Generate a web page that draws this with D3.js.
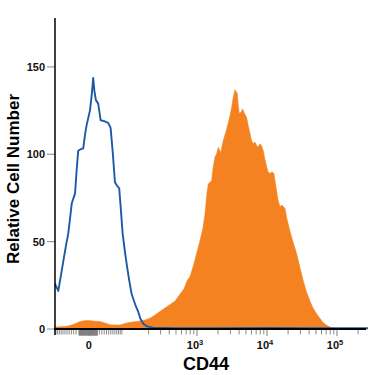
<!DOCTYPE html>
<html><head><meta charset="utf-8">
<script src="https://cdn.jsdelivr.net/npm/d3@7"></script>
<style>body{margin:0;background:#fff}svg{display:block}text{font-family:"Liberation Sans",Arial,sans-serif}</style>
</head><body><svg id="c" width="375" height="375"></svg>
<script>
// Isotype control (blue outline): fluorescence value and cell count
const isoX = [-78,-75,-68,-61,-54,-48,-42,-38,-34,-27,-24,-20.6,-15,-10.8,-7,-4.3,1.9,5,8.1,10.5,13.3,17.8,22.6,30,38.9,44.5,50,55.2,61,67,72,77.4,85,92.9,100,109.7,125,139,150,166,190,234,500,2000,10000,50000,277000];
const isoY = [26,24.7,21.8,30,39,47,54.6,63,72,77.6,90,102,103,103.4,112,116.7,125,133,143.7,136,131,129,119.5,119,118,115,100,84,82,80.5,68,54.6,44,35,28,20,14,10,6,3,1.5,0.7,0.5,0.5,0.6,0.5,0.5];
// CD44 stained (orange filled)
const cd44X = [-78,-75,-50,-38,-27,-17,-7.6,1.9,11.4,21,31.6,42.8,55,69.1,84.9,102.9,123.8,148,176,209,248,293,347,412,485,572,652,720,794,885,1000,1104,1218,1301,1389,1450,1622,1693,1807,1899,2015,2181,2375,2596,2800,2961,3131,3268,3491,3607,3764,3890,4021,4252,4497,4693,5129,5354,5717,6005,6374,6741,7128,7438,7943,8345,8855,9363,9902,10330,11040,11790,12590,13010,13760,14360,15340,16380,18070,19310,21310,23520,26570,29610,33010,36070,41150,45410,51290,57180,63740,71970,84030,96760,110400,277000];
const cd44Y = [1.2,1.2,1.5,2,3,4.3,4.8,4.8,4.5,4.3,3.5,2.5,2.3,2.3,3.2,3.8,4.2,4.6,5.2,6.2,8,10,12,14,16,20,23,27.6,30,36,44,50.6,58,66,78,83,85,92,98.5,100,104,101,108,113,118,122,127,132,137,136,135,128,123.5,124,126,124,121,117,112,108,106,107,105,104,106,105,102,97,93,90,89,90,89,85,79,74,70,71,69,63,56,50,43,35,27.6,22,16,12,8.6,6,3.6,2,0.7,0.2,0,0];

const yTicks = [0,50,100,150];
const xMajorTicks = [0,1e3,1e4,1e5];
const xMajorLabels = [["0",""],["10","3"],["10","4"],["10","5"]];
const xMinorTicks = [-75,-70,-65,-60,-55,-50,-45,-40,-35,-30,-25,20,25,30,35,40,45,50,55,60,65,70,75,
  200,300,400,500,600,700,800,900,2000,3000,4000,5000,6000,7000,8000,9000,
  20000,30000,40000,50000,60000,70000,80000,90000,200000];
const xClusterTicks = [-19,-18,-17,-16,-15,-14,-13,-12,-11,-10,-9,-8,-7,-6,-5,-4,-3,-2,-1,1,2,3,4,5,6,7,8,9,10,11,12,13,14,15,16];

const svg = d3.select("#c");
const T = v => Math.asinh(v / 57.3);
const xs = d3.scaleLinear().domain([T(-78), T(277000)]).range([55, 368]);
const x = v => xs(T(v));
const y = d3.scaleLinear().domain([0, 178]).range([329, 18]);

// orange area
const area = d3.area().x((d,i)=>x(cd44X[i])).y0(y(0)).y1(d=>y(d));
svg.append("path").datum(cd44Y).attr("d", area).attr("fill", "#f58220").attr("stroke","#f58220").attr("stroke-width",0.5);

// blue line
const line = d3.line().x((d,i)=>x(isoX[i])).y(d=>y(d));
svg.append("path").datum(isoY).attr("d", line).attr("fill","none").attr("stroke","#1d5aa6").attr("stroke-width",1.9).attr("stroke-linejoin","round");

// x ticks
const gx = svg.append("g");
gx.selectAll("line.mn").data(xMinorTicks).join("line").attr("class","mn")
  .attr("x1",d=>x(d)).attr("x2",d=>x(d)).attr("y1",329).attr("y2",334.5)
  .attr("stroke","#8a8a8a").attr("stroke-width",1);
gx.selectAll("line.cl").data(xClusterTicks).join("line").attr("class","cl")
  .attr("x1",d=>x(d)).attr("x2",d=>x(d)).attr("y1",329).attr("y2",335.5)
  .attr("stroke","#7d7d7d").attr("stroke-width",1);
gx.selectAll("line.mj").data(xMajorTicks).join("line").attr("class","mj")
  .attr("x1",d=>x(d)).attr("x2",d=>x(d)).attr("y1",329).attr("y2",336)
  .attr("stroke","#7d7d7d").attr("stroke-width",1);
const lbl = gx.selectAll("text").data(xMajorTicks).join("text")
  .attr("x",(d,i)=> x(d) + (i===0 ? 0 : -2)).attr("y",349)
  .attr("text-anchor","middle").attr("font-size",11).attr("font-weight","bold").attr("fill","#111");
lbl.append("tspan").text((d,i)=>xMajorLabels[i][0]);
lbl.append("tspan").attr("dy",-4).attr("font-size",7.5).text((d,i)=>xMajorLabels[i][1]);

// y ticks
const gy = svg.append("g");
gy.selectAll("line").data(yTicks).join("line")
  .attr("x1",47).attr("x2",55).attr("y1",d=>y(d)).attr("y2",d=>y(d))
  .attr("stroke","#888").attr("stroke-width",1);
gy.selectAll("text").data(yTicks).join("text")
  .attr("x",45).attr("y",d=>y(d)).attr("dy","0.36em").attr("text-anchor","end")
  .attr("font-size",11).attr("font-weight","bold").attr("fill","#111").text(d=>d);

// axis lines
svg.append("line").attr("x1",55).attr("x2",55).attr("y1",18).attr("y2",335).attr("stroke","#000").attr("stroke-width",1.5);
svg.append("line").attr("x1",54).attr("x2",366).attr("y1",329).attr("y2",329).attr("stroke","#000").attr("stroke-width",2);

// titles
svg.append("text").attr("transform","translate(19,179) rotate(-90)").attr("text-anchor","middle")
  .attr("font-size",17).attr("font-weight","bold").attr("fill","#000").text("Relative Cell Number");
svg.append("text").attr("x",206).attr("y",370).attr("text-anchor","middle")
  .attr("font-size",18).attr("font-weight","bold").attr("fill","#000").text("CD44");
</script></body></html>
